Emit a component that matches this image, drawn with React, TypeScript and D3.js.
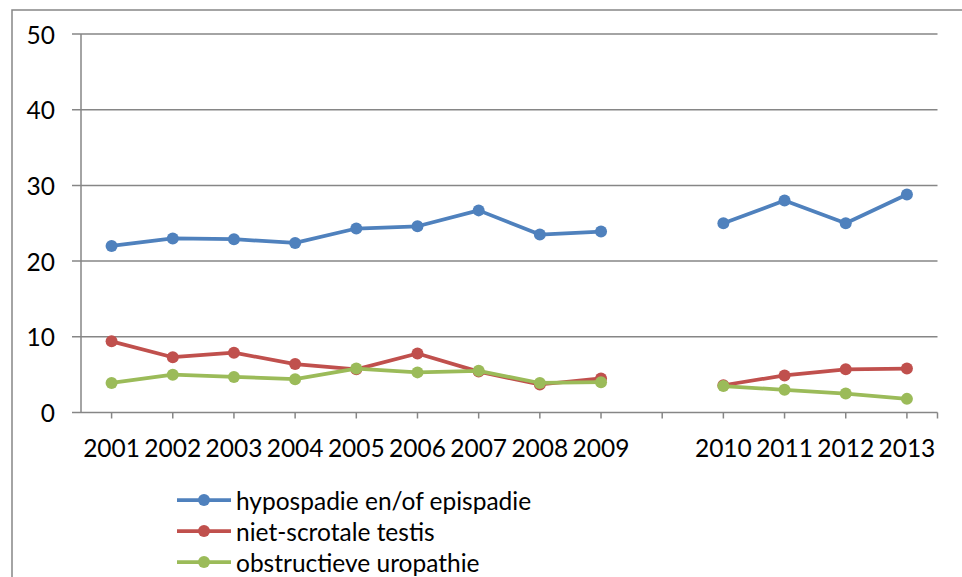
import React from "react";
import * as d3 from "d3";

// Years on the category axis; the empty slot keeps a gap between 2009 and 2010
const categories = ["2001", "2002", "2003", "2004", "2005", "2006", "2007", "2008", "2009", "", "2010", "2011", "2012", "2013"];

const hypospadie = [22.0, 23.0, 22.9, 22.4, 24.3, 24.6, 26.7, 23.5, 23.9, null, 25.0, 28.0, 25.0, 28.8];
const nietScrotaal = [9.4, 7.3, 7.9, 6.4, 5.7, 7.8, 5.4, 3.7, 4.5, null, 3.6, 4.9, 5.7, 5.8];
const obstructief = [3.9, 5.0, 4.7, 4.4, 5.8, 5.3, 5.5, 3.9, 4.0, null, 3.5, 3.0, 2.5, 1.8];

const yTicks = [0, 10, 20, 30, 40, 50];

const seriesNames = ["hypospadie en/of epispadie", "niet-scrotale testis", "obstructieve uropathie"];
const seriesColors = ["#4F81BD", "#C0504D", "#9BBB59"];
const seriesValues = [hypospadie, nietScrotaal, obstructief];

const W = 962;
const H = 577;
const left = 81;
const right = 937.5;
const top = 34;
const bottom = 412.5;
const gridColor = "#868686";
const font = "Lato, 'Open Sans', sans-serif";
const fontSize = 24.5;

export default function App() {
  const x = d3.scaleBand<string>().domain(categories.map((c, i) => String(i))).range([left, right]).paddingInner(0).paddingOuter(0);
  const cx = (i: number) => (x(String(i)) as number) + x.bandwidth() / 2;
  const y = d3.scaleLinear().domain([0, 50]).range([bottom, top]);

  const line = d3
    .line<number | null>()
    .defined((d) => d !== null)
    .x((_, i) => cx(i))
    .y((d) => y(d as number));

  return (
    <svg width={W} height={H} style={{ position: "absolute", left: 0, top: 0, background: "#fff" }}>
      {/* outer chart frame */}
      <path d={`M12,${H + 2} L12,10 L${W + 2},10`} fill="none" stroke={gridColor} strokeWidth={1.5} />

      {/* horizontal gridlines and y tick labels */}
      {yTicks.map((t) => (
        <g key={t}>
          <line x1={72} x2={right} y1={y(t)} y2={y(t)} stroke={gridColor} strokeWidth={1.5} />
          <text x={55} y={y(t)} textAnchor="end" dominantBaseline="central" fontFamily={font} fontSize={fontSize} fill="#000">
            {t}
          </text>
        </g>
      ))}

      {/* y axis line */}
      <line x1={left} x2={left} y1={top} y2={bottom} stroke={gridColor} strokeWidth={1.5} />

      {/* x ticks and labels */}
      {categories.map((c, i) => (
        <g key={i}>
          <line x1={cx(i)} x2={cx(i)} y1={bottom} y2={bottom + 6} stroke={gridColor} strokeWidth={1.5} />
          {c && (
            <text x={cx(i)} y={447} textAnchor="middle" dominantBaseline="central" fontFamily={font} fontSize={fontSize} fill="#000">
              {c}
            </text>
          )}
        </g>
      ))}
      <line x1={right} x2={right} y1={bottom} y2={bottom + 6} stroke={gridColor} strokeWidth={1.5} />

      {/* data series */}
      {seriesValues.map((vals, s) => (
        <g key={s}>
          <path d={line(vals) as string} fill="none" stroke={seriesColors[s]} strokeWidth={3.75} strokeLinejoin="round" />
          {vals.map((v, i) =>
            v === null ? null : <circle key={i} cx={cx(i)} cy={y(v)} r={6} fill={seriesColors[s]} />
          )}
        </g>
      ))}

      {/* legend */}
      {seriesNames.map((n, s) => {
        const ly = 500 + s * 31;
        return (
          <g key={n}>
            <line x1={177} x2={231} y1={ly} y2={ly} stroke={seriesColors[s]} strokeWidth={3.75} />
            <circle cx={204} cy={ly} r={6} fill={seriesColors[s]} />
            <text x={236} y={ly} dominantBaseline="central" fontFamily={font} fontSize={fontSize} fill="#000">
              {n}
            </text>
          </g>
        );
      })}
    </svg>
  );
}
